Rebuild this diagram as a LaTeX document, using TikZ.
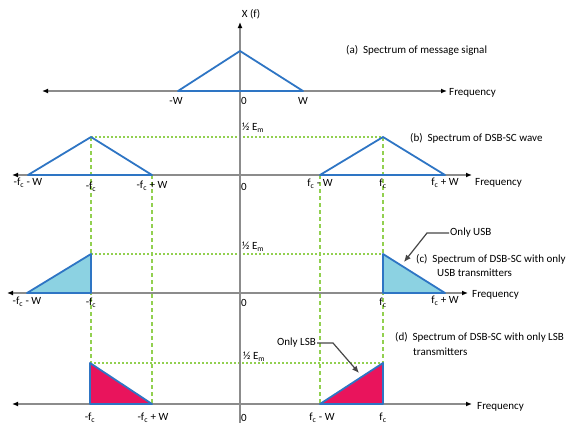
\documentclass[tikz,border=0pt]{standalone}
\usepackage{fontspec}
\setmainfont{Carlito}
\usepackage{tikz}
\usetikzlibrary{arrows.meta}

\definecolor{specblue}{RGB}{46,117,196}
\definecolor{axisgray}{RGB}{140,140,140}
\definecolor{guidegreen}{RGB}{146,208,80}
\definecolor{usbcyan}{RGB}{140,210,226}
\definecolor{lsbred}{RGB}{233,20,92}
\definecolor{leadgray}{RGB}{70,70,70}

\begin{document}
\begin{tikzpicture}[x=1pt,y=-1pt,>={Latex[black,length=6pt,width=5pt]},
  font=\fontsize{11}{13}\selectfont,
  axisline/.style={axisgray,line width=1.4pt},
  spec/.style={specblue,line width=1.8pt,line join=round},
  guide/.style={guidegreen,line width=1.1pt,dash pattern=on 4pt off 3pt},
  level/.style={guidegreen,line width=1.1pt,dash pattern=on 1.5pt off 2.5pt},
  leader/.style={leadgray,line width=1.2pt,->,>={Latex[length=7pt,width=6pt]}},
  lbl/.style={inner sep=1pt}]
\useasboundingbox (0,0) rectangle (574,423);

% green guide lines
\draw[guide] (91,137) -- (91,363);
\draw[guide] (152,175) -- (152,404);
\draw[guide] (320,175) -- (320,404);
\draw[guide] (383,137) -- (383,363);
\draw[level] (91,137) -- (383,137);
\draw[level] (91,254) -- (383,254);
\draw[level] (90,363) -- (383,363);

% frequency axis
\draw[axisline,->] (240,423) -- (240,22);
\node[lbl] (xf) at (251,14) {X (f)};

% (a) message signal
\draw[axisline,<->] (42,91) -- (447,91);
\draw[spec] (178,91) -- (240,51) -- (303,91) -- cycle;
\node[lbl] (ma) at (176,101) {-W};
\node[lbl] (za) at (244,101) {0};
\node[lbl] (wa) at (303,101) {W};
\node[lbl,right] (fa) at (448,93) {Frequency};
\node[lbl,right] (ta) at (345,50) {(a)\ \ Spectrum of message signal};

% (b) DSB-SC
\draw[axisline,<->] (12,175) -- (472,175);
\draw[spec] (28,175) -- (91,137) -- (152,175) -- cycle;
\draw[spec] (320,175) -- (383,137) -- (445,175) -- cycle;
\node[lbl] (b1) at (28,183) {-f\textsubscript{c} - W};
\node[lbl] (b2) at (91,187) {-f\textsubscript{c}};
\node[lbl] (b3) at (152,186) {-f\textsubscript{c} + W};
\node[lbl] (zb) at (244,187) {0};
\node[lbl] (b4) at (320,184) {f\textsubscript{c} - W};
\node[lbl] (b5) at (383,184) {f\textsubscript{c}};
\node[lbl] (b6) at (445,183) {f\textsubscript{c} + W};
\node[lbl,right] (eb) at (241,128) {½ E\textsubscript{m}};
\node[lbl,right] (fb) at (474,183) {Frequency};
\node[lbl,right] (tb) at (409,138) {(b)\ \ Spectrum of DSB-SC wave};

% (c) only USB
\draw[axisline,<->] (7,293) -- (468,293);
\draw[spec,fill=usbcyan] (27,293) -- (91,254) -- (91,293) -- cycle;
\draw[spec,fill=usbcyan] (383,293) -- (383,254) -- (445,293) -- cycle;
\node[lbl] (c1) at (27,302) {-f\textsubscript{c} - W};
\node[lbl] (c2) at (91,303) {-f\textsubscript{c}};
\node[lbl] (zc) at (244,303) {0};
\node[lbl] (c3) at (383,303) {f\textsubscript{c}};
\node[lbl] (c4) at (445,301) {f\textsubscript{c} + W};
\node[lbl,right] (ec) at (241,247) {½ E\textsubscript{m}};
\node[lbl,right] (fc) at (471,295) {Frequency};
\node[lbl,right] (usb) at (449,233) {Only USB};
\coordinate (usbtip) at (404,262);
\draw[leader] (usb.west) -- (427,233) -- (usbtip);
\node[lbl,right] (tc) at (415,259) {(c)\ \ Spectrum of DSB-SC with only};
\node[lbl,right] (tc2) at (436,273) {USB transmitters};

% (d) only LSB
\draw[axisline,<->] (12,404) -- (472,404);
\draw[spec,fill=lsbred] (90,404) -- (90,363) -- (152,404) -- cycle;
\draw[spec,fill=lsbred] (320,404) -- (383,404) -- (383,363) -- cycle;
\node[lbl] (d1) at (90,418) {-f\textsubscript{c}};
\node[lbl] (d2) at (153,418) {-f\textsubscript{c} + W};
\node[lbl] (zd) at (244,418) {0};
\node[lbl] (d3) at (322,418) {f\textsubscript{c} - W};
\node[lbl] (d4) at (383,418) {f\textsubscript{c}};
\node[lbl,right] (ed) at (242,357) {½ E\textsubscript{m}};
\node[lbl,right] (fd) at (476,407) {Frequency};
\node[lbl,left] (lsb) at (317,343) {Only LSB};
\coordinate (lsbtip) at (359,373);
\draw[leader] (lsb.east) -- (333,343) -- (lsbtip);
\node[lbl,right] (td) at (394,337) {(d)\ \ Spectrum of DSB-SC with only LSB};
\node[lbl,right] (td2) at (412,352) {transmitters};
\end{tikzpicture}
\end{document}
